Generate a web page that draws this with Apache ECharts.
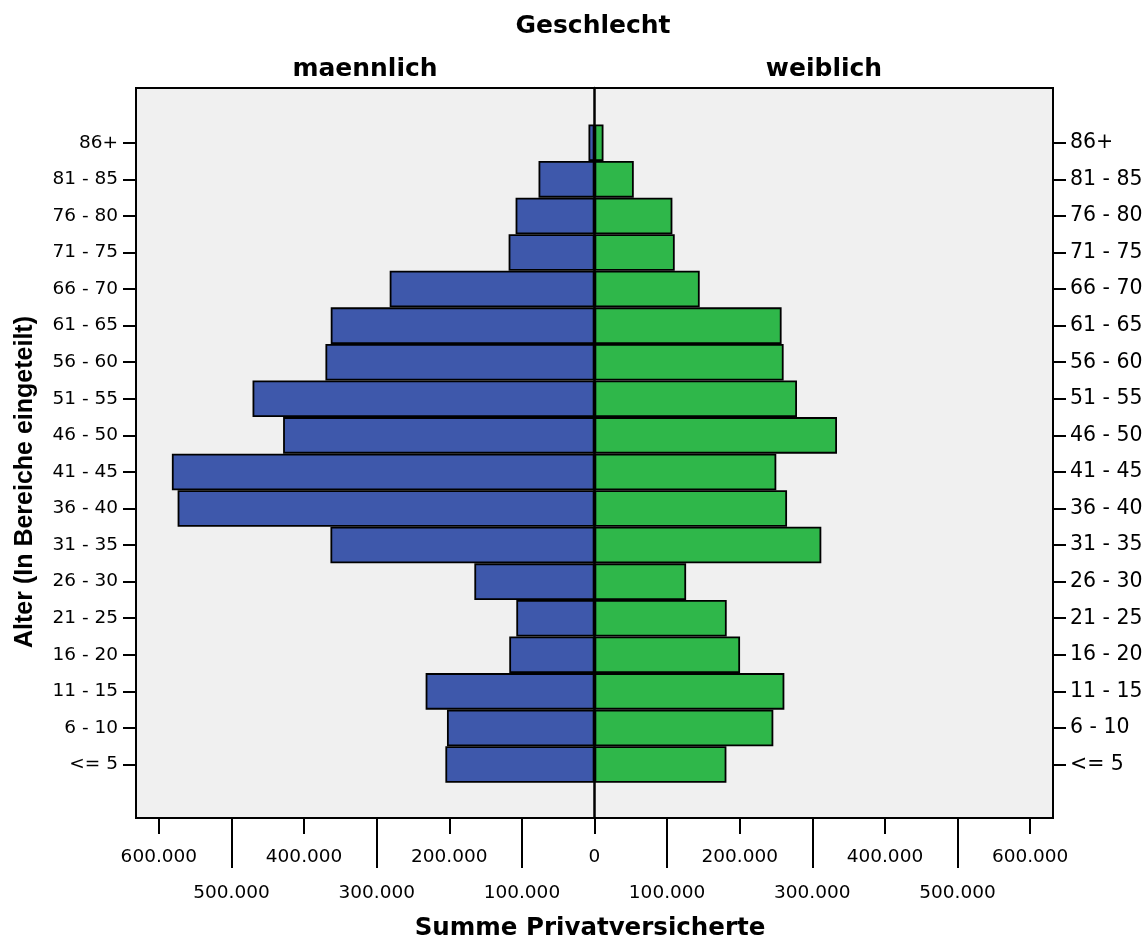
<!DOCTYPE html>
<html>
<head>
<meta charset="utf-8">
<script src="https://cdn.jsdelivr.net/npm/echarts@6/dist/echarts.min.js"></script>
<style>
html,body{margin:0;padding:0;background:#fff;}
#chart{width:1147px;height:941px;}
</style>
</head>
<body>
<div id="chart"></div>
<script>
// Age groups, bottom to top
const ageGroups = ['<= 5', '6 - 10', '11 - 15', '16 - 20', '21 - 25', '26 - 30', '31 - 35', '36 - 40', '41 - 45', '46 - 50', '51 - 55', '56 - 60', '61 - 65', '66 - 70', '71 - 75', '76 - 80', '81 - 85', '86+'];
// Summe Privatversicherte, maennlich
const maleValues = [205400, 203200, 232600, 117400, 107700, 165500, 363700, 574200, 582100, 428900, 471000, 370600, 363300, 282100, 118300, 108700, 77100, 8300];
// Summe Privatversicherte, weiblich
const femaleValues = [181700, 246300, 261500, 200500, 182100, 126200, 312400, 265200, 250400, 334000, 278900, 260500, 257700, 144900, 110500, 107300, 54100, 12400];
const upperTicks = [-600000, -400000, -200000, 0, 200000, 400000, 600000];
const lowerTicks = [-500000, -300000, -100000, 100000, 300000, 500000];

const fmt = v => Math.abs(v).toString().replace(/\B(?=(\d{3})+(?!\d))/g, '.');
const FONT = '"DejaVu Sans", sans-serif';

const chart = echarts.init(document.getElementById('chart'), null, {renderer: 'canvas'});
const xRange = 631500;
const option = {
  backgroundColor: '#ffffff',
  animation: false,
  grid: [
    // outer frame
    {left: 136, right: 94, top: 88, bottom: 123, show: true, backgroundColor: '#F0F0F0', borderColor: '#000', borderWidth: 2, z: 0},
    // inner band area for categories
    {left: 136, right: 94, top: 124.5, bottom: 158.2, show: false}
  ],
  xAxis: [
    {
      gridIndex: 0, type: 'value', min: -xRange, max: xRange, position: 'bottom',
      axisLine: {show: false}, splitLine: {show: false},
      axisTick: {show: true, customValues: upperTicks, length: 16, lineStyle: {color: '#000', width: 2}},
      axisLabel: {customValues: upperTicks, formatter: fmt, margin: 30, color: '#000', fontSize: 18.5, fontFamily: FONT}
    },
    {
      gridIndex: 0, type: 'value', min: -xRange, max: xRange, position: 'bottom',
      axisLine: {show: false}, splitLine: {show: false},
      axisTick: {show: true, customValues: lowerTicks, length: 50, lineStyle: {color: '#000', width: 2}},
      axisLabel: {customValues: lowerTicks, formatter: fmt, margin: 66, color: '#000', fontSize: 18.5, fontFamily: FONT}
    },
    {
      gridIndex: 1, type: 'value', min: -xRange, max: xRange, show: false
    }
  ],
  yAxis: [
    {
      // center line at 0 across the whole frame
      gridIndex: 0, type: 'value', min: 0, max: 1, z: 10,
      axisLine: {show: true, onZero: true, lineStyle: {color: '#000', width: 2.5}},
      axisTick: {show: false}, axisLabel: {show: false}, splitLine: {show: false}
    },
    {
      gridIndex: 1, type: 'category', data: ageGroups, position: 'left',
      axisLine: {show: false, onZero: false},
      axisTick: {show: true, alignWithLabel: true, interval: 0, length: 13, lineStyle: {color: '#000', width: 2}},
      axisLabel: {interval: 0, margin: 18, color: '#000', fontSize: 18.5, fontFamily: FONT, padding: [4, 0, 0, 0]}
    },
    {
      gridIndex: 1, type: 'category', data: ageGroups, position: 'right',
      axisLine: {show: false, onZero: false},
      axisTick: {show: true, alignWithLabel: true, interval: 0, length: 13, lineStyle: {color: '#000', width: 2}},
      axisLabel: {interval: 0, margin: 17, color: '#000', fontSize: 20.5, fontFamily: FONT, padding: [4, 0, 0, 0]}
    }
  ],
  series: [
    {
      name: 'maennlich', type: 'bar', stack: 'pyr', xAxisIndex: 2, yAxisIndex: 1,
      data: maleValues.map(v => -v),
      barWidth: '100%', barCategoryGap: '0%',
      itemStyle: {color: '#3E58AB', borderColor: '#000', borderWidth: 1.8}
    },
    {
      name: 'weiblich', type: 'bar', stack: 'pyr', xAxisIndex: 2, yAxisIndex: 1,
      data: femaleValues,
      barWidth: '100%', barCategoryGap: '0%',
      itemStyle: {color: '#2FB74A', borderColor: '#000', borderWidth: 1.8}
    }
  ],
  graphic: [
    {type: 'text', x: 593, y: 26, style: {text: 'Geschlecht', font: 'bold 25px "DejaVu Sans", sans-serif', fill: '#000', textAlign: 'center', textVerticalAlign: 'middle'}},
    {type: 'text', x: 365, y: 69, style: {text: 'maennlich', font: 'bold 25px "DejaVu Sans", sans-serif', fill: '#000', textAlign: 'center', textVerticalAlign: 'middle'}},
    {type: 'text', x: 824, y: 69, style: {text: 'weiblich', font: 'bold 25px "DejaVu Sans", sans-serif', fill: '#000', textAlign: 'center', textVerticalAlign: 'middle'}},
    {type: 'text', x: 590, y: 929, style: {text: 'Summe Privatversicherte', font: 'bold 24.5px "DejaVu Sans", sans-serif', fill: '#000', textAlign: 'center', textVerticalAlign: 'middle'}},
    {type: 'text', x: 25, y: 482, rotation: Math.PI / 2, style: {text: 'Alter (In Bereiche eingeteilt)', font: 'bold 25px "Liberation Sans", Arial, sans-serif', fill: '#000', textAlign: 'center', textVerticalAlign: 'middle'}}
  ]
};
chart.setOption(option);
</script>
</body>
</html>
